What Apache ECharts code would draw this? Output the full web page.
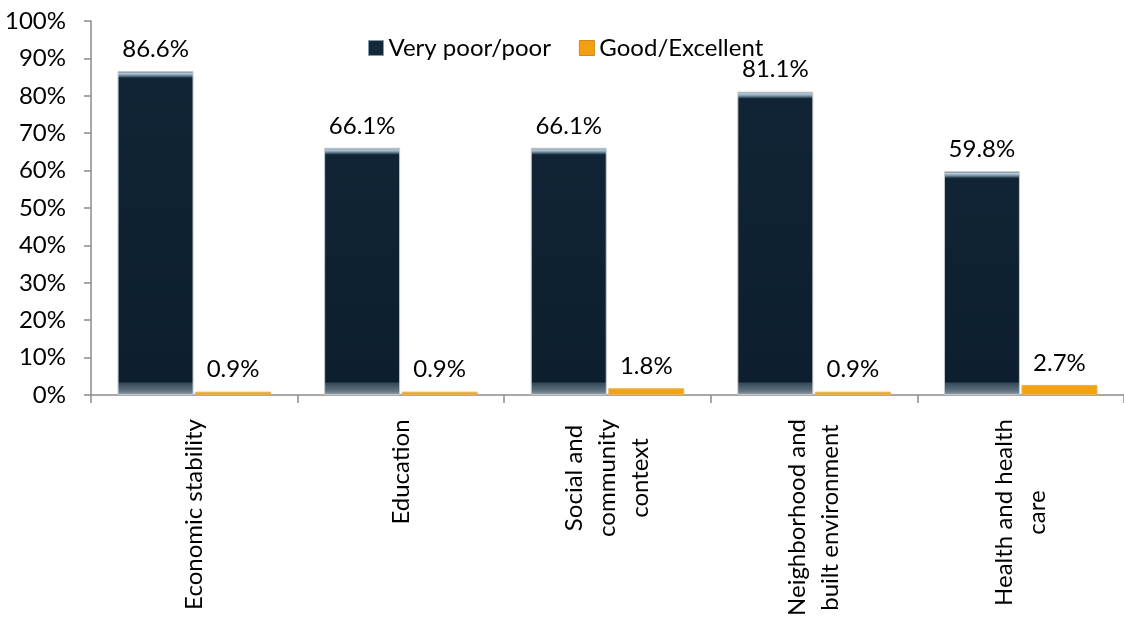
<!DOCTYPE html>
<html>
<head>
<meta charset="utf-8">
<script src="https://cdn.jsdelivr.net/npm/echarts@6/dist/echarts.min.js"></script>
<style>
html,body{margin:0;padding:0;background:#fff;}
#chart{width:1124px;height:620px;}
</style>
</head>
<body>
<div id="chart"></div>
<script>
const categories = ['Economic stability', 'Education', 'Social and\ncommunity\ncontext', 'Neighborhood and\nbuilt environment', 'Health and health\ncare'];
const poorValues = [86.6, 66.1, 66.1, 81.1, 59.8];
const goodValues = [0.9, 0.9, 1.8, 0.9, 2.7];
const seriesNames = ['Very poor/poor', 'Good/Excellent'];

const FONT = 'Lato';
const FS = 24;
const PLOT_H = 374;

// measure text so each multi-line rotated category label is centred line by line
const mctx = document.createElement('canvas').getContext('2d');
mctx.font = FS + 'px ' + FONT;
const categoryItems = categories.map(c => {
  const w = Math.ceil(Math.max(...c.split('\n').map(l => mctx.measureText(l).width)));
  return { value: c, textStyle: { align: 'center', padding: [0, w, 0, 0] } };
});

function darkBevel(params) {
  const h = Math.max(params.value / 100 * PLOT_H, 20);
  const s = px => Math.min(Math.max(px / h, 0), 1);
  return new echarts.graphic.LinearGradient(0, 0, 0, 1, [
    { offset: 0, color: '#22323f' },
    { offset: s(2), color: '#b9cfdd' },
    { offset: s(4), color: '#7f9bb0' },
    { offset: s(7), color: '#112435' },
    { offset: 1 - s(13), color: '#0d1f2e' },
    { offset: 1 - s(12), color: '#34495a' },
    { offset: 1 - s(4), color: '#63737f' },
    { offset: 1, color: '#9aa5ad' }
  ]);
}

const chart = echarts.init(document.getElementById('chart'), null, { renderer: 'canvas' });
chart.setOption({
  animation: false,
  backgroundColor: '#ffffff',
  textStyle: { fontFamily: FONT },
  grid: { left: 91, right: -7, top: 21, bottom: 225, containLabel: false },
  legend: {
    left: 363, top: 31,
    itemWidth: 15, itemHeight: 15, itemGap: 28,
    icon: 'rect',
    textStyle: { fontFamily: FONT, fontSize: FS, color: '#000' },
    data: [
      { name: seriesNames[0], itemStyle: { color: '#14283a', borderColor: '#7f9bb0', borderWidth: 1 } },
      { name: seriesNames[1], itemStyle: { color: '#f2a012', borderColor: '#c98a1a', borderWidth: 1 } }
    ]
  },
  xAxis: {
    type: 'category',
    data: categoryItems,
    axisLine: { lineStyle: { color: '#8c8c8c', width: 1.5 } },
    axisTick: { show: true, length: 8, alignWithLabel: false, lineStyle: { color: '#8c8c8c', width: 1.5 } },
    axisLabel: {
      interval: 0,
      rotate: 90,
      margin: 24,
      color: '#000',
      fontFamily: FONT,
      fontSize: FS,
      lineHeight: 33
    }
  },
  yAxis: {
    type: 'value',
    min: 0, max: 100, interval: 10,
    axisLine: { show: true, lineStyle: { color: '#8c8c8c', width: 1.5 } },
    axisTick: { show: true, length: 7, lineStyle: { color: '#8c8c8c', width: 1.5 } },
    splitLine: { show: false },
    axisLabel: { formatter: '{value}%', margin: 25, color: '#000', fontFamily: FONT, fontSize: FS }
  },
  series: [
    {
      name: seriesNames[0],
      type: 'bar',
      data: poorValues,
      barWidth: 76,
      barGap: '2%',
      itemStyle: { color: darkBevel, borderColor: '#c4cacf', borderWidth: 1 },
      label: { show: true, position: 'top', distance: 10, formatter: p => p.value.toFixed(1) + '%', color: '#000', fontFamily: FONT, fontSize: FS }
    },
    {
      name: seriesNames[1],
      type: 'bar',
      data: goodValues,
      barWidth: 76,
      barGap: '2%',
      itemStyle: { color: '#f3a312', borderColor: '#e8b553', borderWidth: 1 },
      label: { show: true, position: 'top', distance: 10, formatter: p => p.value.toFixed(1) + '%', color: '#000', fontFamily: FONT, fontSize: FS }
    }
  ]
});
</script>
</body>
</html>
